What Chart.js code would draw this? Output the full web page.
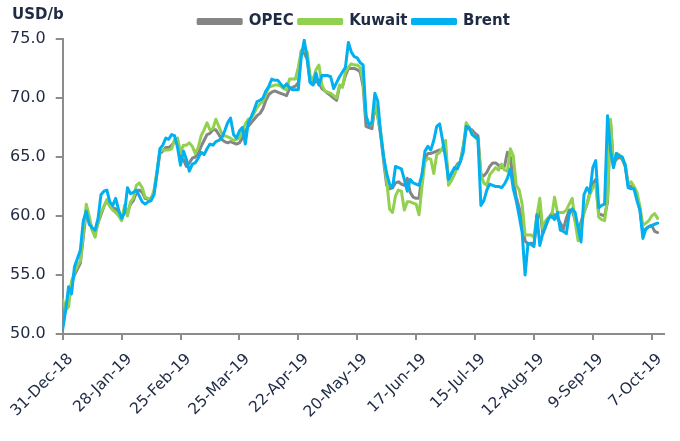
<!DOCTYPE html>
<html><head><meta charset="utf-8">
<script src="https://cdn.jsdelivr.net/npm/chart.js@4.4.0/dist/chart.umd.min.js"></script>
<style>html,body{margin:0;padding:0;background:#fff}canvas{display:block}</style>
</head><body>
<canvas id="c" width="680" height="441"></canvas>
<script>
const tickLabels = ['31-Dec-18','28-Jan-19','25-Feb-19','25-Mar-19','22-Apr-19','20-May-19','17-Jun-19','15-Jul-19','12-Aug-19','9-Sep-19','7-Oct-19'];
const seriesNames = ['OPEC','Kuwait','Brent'];
const opec = [
52.5,52.2,53.0,54.3,55.0,55.5,56.0,58.2,60.4,59.6,58.9,58.6,59.4,60.1,60.8,61.3,60.9,60.7,60.6,60.2,
59.7,60.4,60.3,61.0,61.3,62.0,62.2,62.0,61.5,61.4,61.5,62.0,63.6,65.3,65.5,65.8,65.8,66.0,66.3,66.2,
64.6,64.8,64.2,64.5,64.9,65.0,65.3,65.9,66.4,66.9,67.0,67.3,67.3,66.9,66.5,66.3,66.2,66.3,66.2,66.1,
66.2,66.6,67.2,67.6,67.9,68.2,68.5,68.7,69.1,69.8,70.3,70.5,70.6,70.5,70.4,70.3,70.2,70.8,70.9,71.0,
71.3,74.0,73.8,73.3,71.4,71.2,71.4,71.3,70.8,70.6,70.4,70.2,70.0,69.8,71.0,71.0,71.9,72.5,72.5,72.5,
72.4,72.2,71.0,67.6,67.5,67.4,69.3,68.4,66.8,64.6,62.6,62.3,62.4,62.8,62.9,62.7,62.6,63.2,62.0,61.6,
61.5,61.5,63.5,64.9,65.3,65.3,65.4,65.5,65.6,65.6,65.6,63.0,63.6,63.9,64.4,64.6,65.9,67.4,67.4,67.3,
67.0,66.8,63.5,63.4,63.7,64.2,64.5,64.5,64.3,64.1,64.2,65.4,65.0,63.0,61.6,60.7,59.5,57.9,57.6,57.7,
57.6,59.5,60.7,58.5,59.1,59.8,60.2,60.1,59.8,59.4,58.9,59.8,60.5,60.5,59.6,58.6,59.5,60.3,61.0,62.0,
62.8,63.1,60.2,60.1,60.0,61.2,68.1,64.4,64.8,65.0,64.8,64.2,62.6,62.5,62.4,61.6,60.5,58.6,58.9,59.1,
59.2,58.7,58.6];
const kuwait = [
52.9,52.0,52.3,54.5,55.2,55.8,56.2,58.5,61.0,60.0,58.8,58.2,59.5,60.3,60.8,61.4,60.8,60.5,60.3,60.0,
59.6,60.9,60.0,61.2,61.5,62.6,62.8,62.4,61.6,61.5,61.4,62.2,63.8,65.5,65.6,65.6,65.6,65.7,66.5,66.6,
65.4,66.0,66.0,66.2,65.9,65.3,65.8,66.8,67.3,67.9,67.3,67.4,68.2,67.6,67.0,66.8,66.7,66.6,66.4,66.5,
66.6,67.2,67.8,68.2,68.3,68.7,69.2,69.5,69.7,70.3,70.9,71.0,71.1,71.1,71.0,70.8,70.7,71.6,71.6,71.6,
72.6,74.0,74.2,73.9,71.9,71.5,72.4,72.8,71.1,70.6,70.5,70.4,70.2,70.0,71.1,70.9,72.2,72.6,72.9,72.8,
72.8,72.6,71.4,68.4,67.8,67.8,69.6,68.4,67.1,64.9,63.0,60.6,60.3,61.7,62.2,62.1,60.5,61.2,61.2,61.1,
61.0,60.1,62.5,64.6,64.9,64.8,63.6,65.2,65.4,65.8,66.4,62.6,63.0,63.5,64.2,64.6,65.7,67.9,67.5,67.0,
66.7,66.4,63.5,62.8,62.6,63.5,63.8,64.1,63.9,64.4,63.9,63.8,65.7,65.1,62.6,62.2,61.0,58.4,58.4,58.4,
58.2,60.0,61.5,58.9,59.6,59.9,59.9,61.6,60.3,60.3,60.3,60.5,61.0,61.5,59.5,57.9,59.0,60.3,61.0,61.8,
62.4,62.7,59.9,59.7,59.6,61.5,68.2,64.1,65.3,65.2,64.9,64.4,62.7,62.9,62.5,62.0,60.8,59.2,59.4,59.6,
60.0,60.2,59.8];
const brent = [
50.4,52.0,54.0,53.4,55.7,56.4,57.1,59.6,60.4,59.3,59.0,58.8,59.8,61.8,62.1,62.2,61.2,60.9,61.5,60.5,
59.8,60.3,62.4,61.9,62.0,62.2,61.7,61.2,61.0,61.2,61.3,61.8,63.6,65.7,66.0,66.6,66.5,66.9,66.8,65.8,
64.3,65.5,64.8,63.8,64.4,64.5,64.9,65.4,65.2,65.7,66.1,66.0,66.3,66.4,66.6,67.2,67.9,68.3,66.9,66.6,
67.2,67.5,66.1,67.9,68.4,69.0,69.7,69.8,70.0,70.6,71.0,71.6,71.5,71.5,71.2,70.9,71.2,70.9,70.7,70.7,
70.7,73.5,74.9,73.4,71.3,71.1,72.1,71.1,71.9,71.9,71.9,71.8,70.8,71.3,71.8,72.2,72.6,74.7,73.9,73.5,
73.4,73.0,72.8,68.5,67.7,67.9,70.4,69.7,66.9,65.0,63.6,62.7,62.4,64.2,64.1,64.0,63.1,62.1,63.1,62.8,
62.7,62.6,63.5,65.5,65.9,65.6,66.4,67.6,67.8,66.4,64.9,63.1,63.6,64.1,64.0,64.6,65.4,67.6,67.5,66.9,
66.7,66.6,60.9,61.3,62.2,62.7,62.6,62.5,62.5,62.4,62.7,63.2,64.0,62.3,61.3,60.0,58.6,55.0,57.7,57.6,
57.4,60.1,57.5,58.5,59.2,59.8,60.0,59.7,60.3,58.8,58.7,58.5,60.2,60.6,60.3,59.0,57.8,61.8,62.4,62.0,
64.1,64.7,60.7,60.9,61.0,68.5,65.6,64.1,65.3,65.1,65.0,64.3,62.4,62.3,62.3,61.3,60.5,58.1,58.9,59.1,
59.2,59.3,59.4];

// business-day categories starting 31-Dec-18
const MONTHS = ['Jan','Feb','Mar','Apr','May','Jun','Jul','Aug','Sep','Oct','Nov','Dec'];
const businessDays = [];
for (let d = new Date(Date.UTC(2018, 11, 31)); businessDays.length < brent.length; d.setUTCDate(d.getUTCDate() + 1)) {
  const w = d.getUTCDay();
  if (w !== 0 && w !== 6) businessDays.push(d.getUTCDate() + '-' + MONTHS[d.getUTCMonth()] + '-' + String(d.getUTCFullYear()).slice(2));
}
const toPoints = arr => arr.map((v, i) => ({x: i, y: v}));

const textColor = '#1f2a44';
const axisColor = '#8c8c8c';
const FONT = 'DejaVu Sans';

const unitPlugin = {
  id: 'unit',
  afterLayout(chart) {
    // legend sits slightly right of the canvas centre in the original
    if (chart.legend) { chart.legend.left = 28; }
  },
  afterDraw(chart) {
    const ctx = chart.ctx;
    ctx.save();
    ctx.font = 'bold 15px "' + FONT + '"';
    ctx.fillStyle = textColor;
    ctx.textAlign = 'left';
    ctx.textBaseline = 'alphabetic';
    ctx.fillText('USD/b', 12, 19);
    ctx.restore();
  }
};

new Chart(document.getElementById('c'), {
  type: 'line',
  data: {
    datasets: [
      {label: seriesNames[0], data: toPoints(opec), borderColor: '#858585', backgroundColor: '#858585', order: 3},
      {label: seriesNames[1], data: toPoints(kuwait), borderColor: '#92D050', backgroundColor: '#92D050', order: 2},
      {label: seriesNames[2], data: toPoints(brent), borderColor: '#00B0F0', backgroundColor: '#00B0F0', order: 1}
    ]
  },
  options: {
    responsive: false,
    animation: false,
    devicePixelRatio: 1,
    layout: {padding: {left: 0, right: 0, top: 9, bottom: 0}},
    elements: {
      line: {borderWidth: 3, tension: 0, borderJoinStyle: 'round', borderCapStyle: 'round'},
      point: {radius: 0}
    },
    plugins: {
      tooltip: {enabled: false},
      legend: {
        position: 'top',
        labels: {
          boxWidth: 43, boxHeight: 4, padding: 5,
          color: textColor,
          font: {family: FONT, size: 15, weight: 'bold'},
          sort: (a, b) => a.datasetIndex - b.datasetIndex
        }
      }
    },
    scales: {
      x: {
        type: 'linear', min: 0, max: 204,
        ticks: {
          stepSize: 20, includeBounds: false, autoSkip: false,
          maxRotation: 45, minRotation: 45, padding: 10, labelOffset: 8,
          color: textColor, font: {family: FONT, size: 15.5},
          callback: v => (v % 20 === 0 && tickLabels[v / 20] !== undefined) ? tickLabels[v / 20] : ''
        },
        grid: {display: true, drawOnChartArea: false, drawTicks: true, tickLength: 6, color: axisColor, lineWidth: 2},
        border: {color: axisColor, width: 2},
        afterFit: s => { s.height = 107; s.paddingRight = 16.5; s.paddingLeft = 0; }
      },
      y: {
        min: 50, max: 75,
        ticks: {
          stepSize: 5, padding: 10,
          color: textColor, font: {family: FONT, size: 16},
          callback: v => v.toFixed(1)
        },
        grid: {display: true, drawOnChartArea: false, drawTicks: true, tickLength: 7, color: axisColor, lineWidth: 2},
        border: {color: axisColor, width: 2},
        afterFit: s => { s.width = 62.7; }
      }
    }
  },
  plugins: [unitPlugin]
});
</script>
</body></html>
